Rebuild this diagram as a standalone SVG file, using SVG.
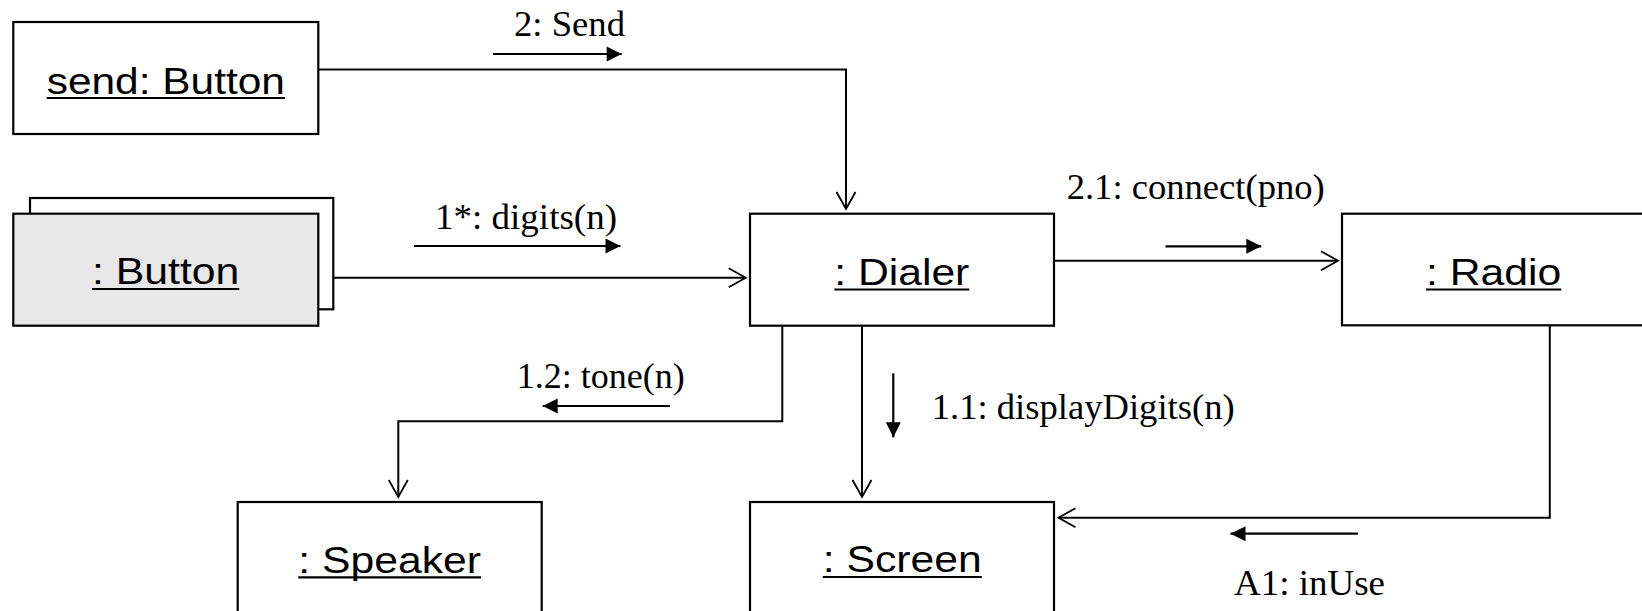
<svg xmlns="http://www.w3.org/2000/svg" width="1642" height="611" viewBox="0 0 1642 611">
<style>
.box{fill:#ffffff;stroke:#000;stroke-width:2.2}
.shaded{fill:#e8e8e8;stroke:#000;stroke-width:2.2}
.name{font-family:"Liberation Sans",Arial,sans-serif;font-size:36px;fill:#000}
.ul{stroke:#000;stroke-width:2.2}
.lbl{font-family:"Liberation Serif","Times New Roman",serif;font-size:36px;fill:#000}
.link{fill:none;stroke:#000;stroke-width:2;marker-end:url(#open)}
.msg{fill:none;stroke:#000;stroke-width:2.2;marker-end:url(#solid)}
</style>
<defs>
<marker id="open" markerUnits="userSpaceOnUse" viewBox="-19 -11 21 22" refX="0" refY="0" markerWidth="21" markerHeight="22" orient="auto" overflow="visible">
<path d="M-17,-9.5 L0,0 L-17,9.5" fill="none" stroke="#000" stroke-width="1.8"/>
</marker>
<marker id="solid" markerUnits="userSpaceOnUse" viewBox="-16 -8 17 16" refX="0" refY="0" markerWidth="17" markerHeight="16" orient="auto" overflow="visible">
<polygon points="-15,-7.5 0,0 -15,7.5" fill="#000"/>
</marker>
</defs>

<g id="connectors">
<path class="link" d="M318.3,69.5 H846 V209"/>
<path class="link" d="M318.3,277.7 H745.7"/>
<path class="link" d="M1054,260.7 H1338"/>
<path class="link" d="M782.3,325.7 V421.3 H398.3 V497"/>
<path class="link" d="M862,325.7 V497"/>
<path class="link" d="M1549.8,325.3 V517.7 H1058.5"/>
<path class="msg" d="M493,54 H621.7"/>
<path class="msg" d="M414,246 H620.5"/>
<path class="msg" d="M1165.5,246.3 H1261.3"/>
<path class="msg" d="M670,406 H542.7"/>
<path class="msg" d="M893.3,373.3 V437.3"/>
<path class="msg" d="M1358,533.7 H1230.5"/>
<text class="lbl" x="514" y="36" textLength="111" lengthAdjust="spacingAndGlyphs">2: Send</text>
<text class="lbl" x="435" y="228.7" textLength="182" lengthAdjust="spacingAndGlyphs">1*: digits(n)</text>
<text class="lbl" x="1066.7" y="199" textLength="258" lengthAdjust="spacingAndGlyphs">2.1: connect(pno)</text>
<text class="lbl" x="516.7" y="388.3" textLength="168" lengthAdjust="spacingAndGlyphs">1.2: tone(n)</text>
<text class="lbl" x="931.7" y="419.3" textLength="303" lengthAdjust="spacingAndGlyphs">1.1: displayDigits(n)</text>
<text class="lbl" x="1234" y="595.3" textLength="151" lengthAdjust="spacingAndGlyphs">A1: inUse</text>
</g>

<g id="sendButton">
<rect class="box" x="13.3" y="22" width="305" height="112"/>
<text class="name" x="46.7" y="94.3" textLength="238.3" lengthAdjust="spacingAndGlyphs">send: Button</text>
<line class="ul" x1="46.7" y1="98" x2="285" y2="98"/>
</g>

<g id="button">
<rect class="box" x="30" y="198" width="303.3" height="111.3"/>
<rect class="shaded" x="13.3" y="213.7" width="305" height="112"/>
<text class="name" x="92" y="284.3" textLength="147.3" lengthAdjust="spacingAndGlyphs">: Button</text>
<line class="ul" x1="92" y1="289" x2="239.3" y2="289"/>
</g>

<g id="dialer">
<rect class="box" x="750" y="213.7" width="304" height="112"/>
<text class="name" x="834.3" y="285" textLength="135" lengthAdjust="spacingAndGlyphs">: Dialer</text>
<line class="ul" x1="834.3" y1="289.5" x2="969.3" y2="289.5"/>
</g>

<g id="radio">
<rect class="box" x="1342" y="213.7" width="304" height="111.6"/>
<text class="name" x="1426" y="285" textLength="135.3" lengthAdjust="spacingAndGlyphs">: Radio</text>
<line class="ul" x1="1426" y1="289.5" x2="1561.3" y2="289.5"/>
</g>

<g id="speaker">
<rect class="box" x="237.7" y="502" width="304" height="115"/>
<text class="name" x="298.3" y="572.7" textLength="182.7" lengthAdjust="spacingAndGlyphs">: Speaker</text>
<line class="ul" x1="298.3" y1="577.3" x2="481" y2="577.3"/>
</g>

<g id="screen">
<rect class="box" x="750" y="502" width="304" height="115"/>
<text class="name" x="822.8" y="571.7" textLength="159" lengthAdjust="spacingAndGlyphs">: Screen</text>
<line class="ul" x1="822.8" y1="577" x2="981.8" y2="577"/>
</g>
</svg>
